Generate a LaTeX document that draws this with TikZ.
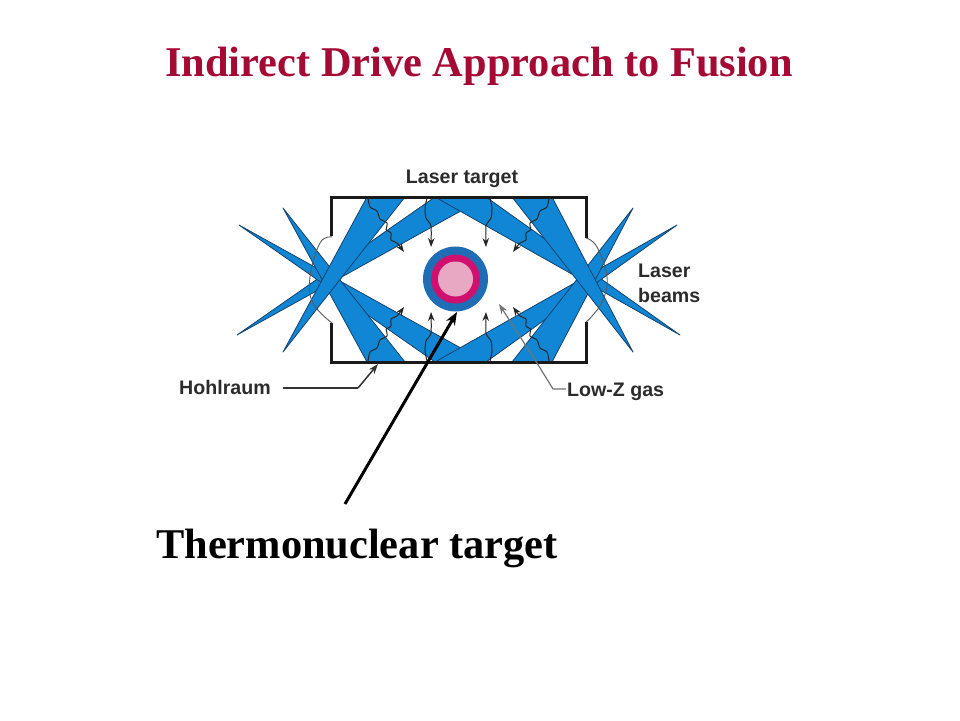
\documentclass[tikz,border=0pt]{standalone}
\usepackage{fontspec}
\setmainfont{Liberation Serif}
\newfontfamily\labelfont{Liberation Sans}
\usetikzlibrary{arrows.meta}
\definecolor{beamblue}{HTML}{1186D4}
\definecolor{beamedge}{HTML}{14426E}
\definecolor{titlered}{HTML}{A50A35}
\definecolor{shellblue}{HTML}{1F6DB4}
\definecolor{shellmag}{HTML}{D0106F}
\definecolor{corepink}{HTML}{E8A8C4}
\definecolor{inktext}{HTML}{2B2B2B}
\definecolor{wallline}{HTML}{1A1A1A}
\tikzset{
  beam/.style={fill=beamblue,draw=beamedge,line width=0.8pt,line join=round},
  wall/.style={draw=wallline,line width=3pt,line join=miter},
  window/.style={draw=black!65,line width=0.9pt},
  wave/.style={draw=black!85,line width=1pt},
  tiparrow/.style={draw=black!85,line width=1pt,-{Stealth[length=9pt,width=6.5pt]}},
  smalllabel/.style={font=\labelfont\bfseries\fontsize{19.6}{25}\selectfont,text=inktext,inner sep=0pt,align=left},
  guide/.style={draw=black!80,line width=1.5pt}
}
\newcommand{\absorbwaves}{%
  \draw[wave] plot[smooth,tension=0.4] coordinates {(368,-198) (370,-207) (377,-211) (380,-219) (387,-223) (386,-230)};
  \draw[tiparrow] plot[smooth,tension=0.4] coordinates {(386,-230) (391,-233) (391,-240) (397,-243) (404,-252)};
  \draw[tiparrow] plot[smooth,tension=0.4] coordinates {(427,-198) (425,-208) (426,-218) (431,-226) (431,-247)};
}
\begin{document}
\begin{tikzpicture}[x=1pt,y=1pt]
\useasboundingbox (0,0) rectangle (960,-720);
\fill[white] (0,0) rectangle (960,-720);
% beams: shallow pairs first
\draw[beam] (237,-335) -- (435,-197) -- (486,-197) -- cycle;
\draw[beam] (680,-335) -- (486,-197) -- (435,-197) -- cycle;
\draw[beam] (239,-225) -- (435,-362) -- (486,-362) -- cycle;
\draw[beam] (677,-225) -- (486,-362) -- (435,-362) -- cycle;
\draw[beam] (283,-208) -- (367,-362) -- (405,-362) -- cycle;
\draw[beam] (633,-208) -- (552,-362) -- (512,-362) -- cycle;
\draw[beam] (283,-352) -- (367,-197) -- (405,-197) -- cycle;
\draw[beam] (633,-352) -- (552,-197) -- (512,-197) -- cycle;
% hohlraum
\draw[wall] (331,-236) -- (331,-197) -- (586,-197) -- (586,-238);
\draw[wall] (331,-323) -- (331,-362) -- (586,-362) -- (586,-322);
\draw[window] plot[smooth,tension=0.7] coordinates {(332,-237) (320,-243) (310,-277) (313,-303) (332,-323)};
\draw[window] plot[smooth,tension=0.7] coordinates {(586,-238) (597,-247) (607,-277) (603,-300) (593,-315) (586,-322)};
% absorption waves in all four quadrants
\begin{scope}\absorbwaves\end{scope}
\begin{scope}[xshift=917pt,xscale=-1]\absorbwaves\end{scope}
\begin{scope}[yshift=-559pt,yscale=-1]\absorbwaves\end{scope}
\begin{scope}[xshift=917pt,yshift=-559pt,xscale=-1,yscale=-1]\absorbwaves\end{scope}
% capsule
\fill[shellblue] (455.5,-279) circle (32.5);
\fill[shellmag] (455.5,-279) circle (24.5);
\fill[corepink] (455.5,-279) circle (17.5);
\coordinate (capsule) at (457,-312);
% labels
\node[anchor=base,inner sep=0pt,font=\bfseries\fontsize{42.4}{46}\selectfont,text=titlered] (title) at (479,-76) {Indirect Drive Approach to Fusion};
\node[smalllabel,anchor=base] (lasertarget) at (462,-183) {Laser target};
\node[smalllabel,anchor=north west] (laserbeams) at (638,-264) {Laser\\beams};
\node[smalllabel,anchor=base west] (hohlraum) at (179,-394) {Hohlraum};
\node[smalllabel,anchor=base west] (lowz) at (567,-396) {Low-Z gas};
\node[anchor=base west,inner sep=0pt,font=\bfseries\fontsize{42.4}{46}\selectfont,text=black] (thermo) at (156,-558) {Thermonuclear target};
% connectors
\coordinate (hohlfrom) at (283,-388);
\coordinate (hohlbend) at (358,-388);
\coordinate (hohlto) at (378,-364);
\draw[guide] (hohlfrom) -- (hohlbend);
\draw[guide,-{Stealth[length=10pt,width=7pt]}] (hohlbend) -- (hohlto);
\coordinate (lowzfrom) at (566,-389);
\coordinate (lowzbend) at (553,-389);
\coordinate (lowzmid) at (537,-363);
\coordinate (lowzto) at (499,-304);
\draw[guide,draw=black!55,line width=1.2pt,-{Stealth[length=10pt,width=7pt]}] (lowzfrom) -- (lowzbend) -- (lowzmid) -- (lowzto);
\coordinate (thermofrom) at (345,-504);
\draw[line width=3pt,-{Stealth[length=13pt,width=10pt]}] (thermofrom) -- (capsule);
\end{tikzpicture}
\end{document}
